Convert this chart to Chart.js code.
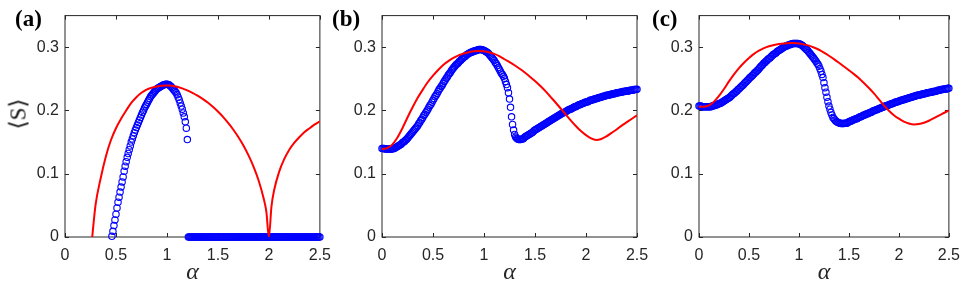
<!DOCTYPE html>
<html>
<head>
<meta charset="utf-8">
<script src="https://cdn.jsdelivr.net/npm/chart.js@4.4.1/dist/chart.umd.min.js"></script>
<style>
  body { margin: 0; background: #fff; }
  #wrap { position: relative; width: 969px; height: 289px; overflow: hidden; }
  canvas { position: absolute; top: 0; }
  .tag { position: absolute; font-family: 'Liberation Serif', 'DejaVu Serif', serif; font-weight: bold; font-size: 23px; line-height: 1; color: #000; }
  #ylab { position: absolute; left: 18px; top: 114px; font-family: 'Liberation Serif', 'DejaVu Serif', serif; font-size: 23px; line-height: 1; color: #111;
          transform: translate(-50%, -50%) rotate(-90deg); white-space: nowrap; }
</style>
</head>
<body>
<div id="wrap">
  <canvas id="chartA" width="340" height="289" style="left:0px"></canvas>
  <canvas id="chartB" width="330" height="289" style="left:330px"></canvas>
  <canvas id="chartC" width="319" height="289" style="left:650px"></canvas>
  <div class="tag" style="left:15px; top:7px">(a)</div>
  <div class="tag" style="left:332px; top:7px">(b)</div>
  <div class="tag" style="left:652px; top:7px">(c)</div>
  <div id="ylab">⟨S⟩</div>
</div>
<script>
// sampling grids of alpha
const alphaFine = [];
for (let i = 0; i <= 250; i++) alphaFine.push(i / 100);
const alphaCoarse = [];
for (let i = 0; i <= 50; i++) alphaCoarse.push(i / 20);

const xTicks = [0, 0.5, 1, 1.5, 2, 2.5];
const yTicks = [0, 0.1, 0.2, 0.3];

// panel (a): simulation (blue circles, on alphaFine)
const blueA = [
  null, null, null, null, null, null, null, null, null, null,
  null, null, null, null, null, null, null, null, null, null,
  null, null, null, null, null, null, null, null, null, null,
  null, null, null, null, null, null, null, null, null, null,
  null, null, null, null, null, null, 0.001, 0.009, 0.018, 0.027,
  0.036, 0.046, 0.055, 0.063, 0.071, 0.079, 0.087, 0.095, 0.104, 0.112,
  0.119, 0.126, 0.132, 0.138, 0.144, 0.150, 0.155, 0.160, 0.165, 0.169,
  0.173, 0.177, 0.181, 0.185, 0.189, 0.193, 0.197, 0.200, 0.204, 0.207,
  0.210, 0.213, 0.216, 0.219, 0.222, 0.224, 0.226, 0.228, 0.230, 0.232,
  0.234, 0.235, 0.236, 0.237, 0.238, 0.239, 0.240, 0.2405, 0.241, 0.2415,
  0.2415, 0.241, 0.2405, 0.239, 0.238, 0.236, 0.234, 0.232, 0.230, 0.228,
  0.225, 0.221, 0.217, 0.212, 0.207, 0.202, 0.196, 0.190, 0.182, 0.172,
  0.154, 0, 0, 0, 0, 0, 0, 0, 0, 0,
  0, 0, 0, 0, 0, 0, 0, 0, 0, 0,
  0, 0, 0, 0, 0, 0, 0, 0, 0, 0,
  0, 0, 0, 0, 0, 0, 0, 0, 0, 0,
  0, 0, 0, 0, 0, 0, 0, 0, 0, 0,
  0, 0, 0, 0, 0, 0, 0, 0, 0, 0,
  0, 0, 0, 0, 0, 0, 0, 0, 0, 0,
  0, 0, 0, 0, 0, 0, 0, 0, 0, 0,
  0, 0, 0, 0, 0, 0, 0, 0, 0, 0,
  0, 0, 0, 0, 0, 0, 0, 0, 0, 0,
  0, 0, 0, 0, 0, 0, 0, 0, 0, 0,
  0, 0, 0, 0, 0, 0, 0, 0, 0, 0,
  0, 0, 0, 0, 0, 0, 0, 0, 0, 0,
  0
];

// panel (a): theory (red line)
const alphaRedA = [0.267, 0.3, 0.35, 0.4, 0.45, 0.5, 0.55, 0.6, 0.65, 0.7,
  0.75, 0.8, 0.85, 0.9, 0.95, 1.0, 1.05, 1.1, 1.15, 1.2,
  1.25, 1.3, 1.35, 1.4, 1.45, 1.5, 1.55, 1.6, 1.65, 1.7,
  1.75, 1.8, 1.85, 1.9, 1.95, 1.975, 2.0, 2.025, 2.05, 2.1,
  2.15, 2.2, 2.25, 2.3, 2.35, 2.4, 2.45, 2.5];
const redA = [0, 0.051, 0.093, 0.127, 0.153, 0.172, 0.187, 0.200, 0.212, 0.221,
  0.228, 0.233, 0.236, 0.238, 0.239, 0.2395, 0.239, 0.2375, 0.235, 0.2318,
  0.228, 0.2235, 0.2183, 0.2125, 0.2058, 0.1983, 0.190, 0.1805, 0.170, 0.158,
  0.1445, 0.129, 0.111, 0.089, 0.060, 0.040, 0, 0.048, 0.073, 0.103,
  0.123, 0.138, 0.149, 0.158, 0.166, 0.172, 0.178, 0.183];

// panel (b)
const blueB = [
  0.140, 0.140, 0.140, 0.139, 0.139, 0.139, 0.139, 0.139, 0.139, 0.139,
  0.139, 0.140, 0.140, 0.141, 0.142, 0.143, 0.144, 0.145, 0.146, 0.147,
  0.149, 0.150, 0.151, 0.153, 0.154, 0.156, 0.158, 0.160, 0.162, 0.164,
  0.166, 0.168, 0.170, 0.172, 0.174, 0.176, 0.179, 0.181, 0.184, 0.186,
  0.189, 0.192, 0.194, 0.197, 0.199, 0.202, 0.205, 0.208, 0.210, 0.213,
  0.216, 0.219, 0.222, 0.224, 0.227, 0.230, 0.233, 0.235, 0.238, 0.240,
  0.243, 0.246, 0.248, 0.251, 0.253, 0.256, 0.258, 0.260, 0.263, 0.265,
  0.267, 0.269, 0.271, 0.273, 0.274, 0.276, 0.278, 0.279, 0.281, 0.282,
  0.284, 0.285, 0.286, 0.288, 0.289, 0.290, 0.291, 0.292, 0.292, 0.293,
  0.294, 0.294, 0.295, 0.295, 0.296, 0.2965, 0.2965, 0.2965, 0.296, 0.2955,
  0.295, 0.294, 0.293, 0.292, 0.291, 0.289, 0.287, 0.285, 0.283, 0.281,
  0.279, 0.276, 0.274, 0.271, 0.268, 0.265, 0.262, 0.259, 0.257, 0.254,
  0.251, 0.246, 0.241, 0.236, 0.228, 0.218, 0.205, 0.190, 0.178, 0.169,
  0.162, 0.158, 0.156, 0.155, 0.154, 0.154, 0.154, 0.155, 0.155, 0.156,
  0.158, 0.159, 0.160, 0.161, 0.162, 0.163, 0.164, 0.165, 0.166, 0.168,
  0.169, 0.170, 0.171, 0.172, 0.173, 0.174, 0.175, 0.176, 0.177, 0.178,
  0.179, 0.180, 0.181, 0.182, 0.183, 0.184, 0.185, 0.186, 0.187, 0.188,
  0.189, 0.190, 0.191, 0.192, 0.193, 0.194, 0.195, 0.196, 0.197, 0.197,
  0.198, 0.199, 0.200, 0.201, 0.202, 0.202, 0.203, 0.204, 0.205, 0.206,
  0.206, 0.207, 0.208, 0.209, 0.209, 0.210, 0.211, 0.211, 0.212, 0.213,
  0.213, 0.214, 0.214, 0.215, 0.216, 0.216, 0.217, 0.217, 0.218, 0.218,
  0.219, 0.219, 0.220, 0.220, 0.221, 0.221, 0.222, 0.222, 0.223, 0.223,
  0.224, 0.224, 0.224, 0.225, 0.225, 0.226, 0.226, 0.226, 0.227, 0.227,
  0.228, 0.228, 0.228, 0.229, 0.229, 0.229, 0.230, 0.230, 0.230, 0.231,
  0.231, 0.231, 0.231, 0.232, 0.232, 0.232, 0.232, 0.233, 0.233, 0.233,
  0.2335
];
const redB = [0.139, 0.1405, 0.146, 0.157, 0.172, 0.189, 0.205, 0.220, 0.233, 0.245,
  0.255, 0.264, 0.272, 0.278, 0.283, 0.287, 0.290, 0.292, 0.2935, 0.294,
  0.2935, 0.292, 0.2895, 0.286, 0.281, 0.2765, 0.2715, 0.266, 0.260, 0.2535,
  0.2465, 0.239, 0.231, 0.222, 0.213, 0.2035, 0.194, 0.1845, 0.1755, 0.1675,
  0.161, 0.156, 0.1535, 0.155, 0.159, 0.1645, 0.170, 0.176, 0.1815, 0.187,
  0.1925];

// panel (c)
const blueC = [
  0.207, 0.207, 0.207, 0.206, 0.206, 0.206, 0.206, 0.206, 0.206, 0.206,
  0.206, 0.206, 0.206, 0.207, 0.207, 0.208, 0.208, 0.209, 0.209, 0.210,
  0.211, 0.211, 0.212, 0.213, 0.214, 0.215, 0.216, 0.217, 0.218, 0.219,
  0.220, 0.221, 0.223, 0.224, 0.226, 0.227, 0.228, 0.230, 0.231, 0.233,
  0.234, 0.236, 0.237, 0.239, 0.240, 0.242, 0.244, 0.245, 0.247, 0.248,
  0.250, 0.252, 0.253, 0.255, 0.256, 0.258, 0.260, 0.261, 0.263, 0.264,
  0.266, 0.268, 0.270, 0.271, 0.273, 0.275, 0.276, 0.278, 0.279, 0.281,
  0.282, 0.283, 0.285, 0.286, 0.288, 0.289, 0.290, 0.291, 0.293, 0.294,
  0.295, 0.296, 0.297, 0.298, 0.299, 0.300, 0.301, 0.302, 0.302, 0.303,
  0.304, 0.304, 0.305, 0.305, 0.306, 0.306, 0.306, 0.306, 0.306, 0.306,
  0.305, 0.305, 0.304, 0.303, 0.302, 0.300, 0.299, 0.297, 0.296, 0.294,
  0.292, 0.290, 0.288, 0.286, 0.284, 0.282, 0.280, 0.278, 0.275, 0.273,
  0.270, 0.266, 0.262, 0.257, 0.252, 0.244, 0.236, 0.229, 0.221, 0.214,
  0.207, 0.202, 0.197, 0.193, 0.189, 0.187, 0.185, 0.183, 0.182, 0.181,
  0.1805, 0.180, 0.1795, 0.1795, 0.1795, 0.1795, 0.180, 0.180, 0.180, 0.181,
  0.182, 0.183, 0.183, 0.184, 0.185, 0.1855, 0.186, 0.187, 0.187, 0.188,
  0.189, 0.190, 0.190, 0.191, 0.192, 0.193, 0.193, 0.194, 0.195, 0.195,
  0.196, 0.197, 0.197, 0.198, 0.199, 0.1995, 0.200, 0.201, 0.201, 0.202,
  0.203, 0.203, 0.204, 0.205, 0.205, 0.206, 0.207, 0.207, 0.208, 0.208,
  0.209, 0.210, 0.210, 0.211, 0.211, 0.212, 0.213, 0.213, 0.214, 0.214,
  0.215, 0.215, 0.216, 0.216, 0.217, 0.217, 0.218, 0.218, 0.219, 0.219,
  0.220, 0.220, 0.221, 0.221, 0.222, 0.222, 0.223, 0.223, 0.224, 0.224,
  0.224, 0.225, 0.225, 0.226, 0.226, 0.226, 0.227, 0.227, 0.228, 0.228,
  0.228, 0.229, 0.229, 0.229, 0.230, 0.230, 0.230, 0.231, 0.231, 0.232,
  0.232, 0.232, 0.233, 0.233, 0.233, 0.234, 0.234, 0.234, 0.234, 0.235,
  0.235
];
const redC = [0.206, 0.206, 0.208, 0.214, 0.223, 0.234, 0.246, 0.257, 0.267, 0.2755,
  0.283, 0.2895, 0.2945, 0.2985, 0.3015, 0.3035, 0.305, 0.306, 0.3065, 0.3065,
  0.306, 0.3045, 0.3025, 0.2995, 0.296, 0.2915, 0.2865, 0.2812, 0.2755, 0.2695,
  0.2635, 0.2575, 0.251, 0.2435, 0.2355, 0.227, 0.2175, 0.208, 0.1995, 0.1925,
  0.187, 0.1825, 0.1795, 0.178, 0.1785, 0.1805, 0.1838, 0.1878, 0.192, 0.196,
  0.200];

const AXIS = '#262626';
const tickFont = { family: "'Liberation Sans', Arial, sans-serif", size: 16 };

// MATLAB-style box with inward ticks on all four sides
const boxTicks = {
  id: 'boxTicks',
  beforeDatasetsDraw(chart) {
    const { ctx, chartArea: a, scales: { x, y } } = chart;
    ctx.save();
    ctx.strokeStyle = AXIS;
    ctx.lineWidth = 1;
    ctx.beginPath();
    xTicks.forEach(v => {
      const px = Math.round(x.getPixelForValue(v)) + 0.5;
      ctx.moveTo(px, a.bottom); ctx.lineTo(px, a.bottom - 4);
      ctx.moveTo(px, a.top); ctx.lineTo(px, a.top + 4);
    });
    yTicks.forEach(v => {
      const py = Math.round(y.getPixelForValue(v)) + 0.5;
      ctx.moveTo(a.left, py); ctx.lineTo(a.left + 4, py);
      ctx.moveTo(a.right, py); ctx.lineTo(a.right - 4, py);
    });
    ctx.stroke();
    ctx.strokeRect(a.left, a.top, a.right - a.left, a.bottom - a.top);
    ctx.restore();
  }
};

function pts(xs, ys) {
  return xs.map((v, i) => ({ x: v, y: ys[i] })).filter(p => p.y !== null);
}

function makePanel(id, blue, redX, red, yWidth, padRight) {
  new Chart(document.getElementById(id), {
    type: 'scatter',
    data: {
      datasets: [{
        data: pts(redX, red),
        showLine: true,
        borderColor: '#ff0000',
        borderWidth: 2,
        pointRadius: 0,
        cubicInterpolationMode: 'monotone'
      }, {
        data: pts(alphaFine, blue),
        showLine: false,
        pointRadius: 3.2,
        pointBorderWidth: 1.1,
        pointBorderColor: '#0000ff',
        pointBackgroundColor: 'rgba(0,0,0,0)',
        clip: false
      }]
    },
    options: {
      responsive: false,
      animation: false,
      devicePixelRatio: 1,
      layout: { padding: { top: 5.5, right: padRight, left: 0, bottom: 0 } },
      plugins: { legend: { display: false }, tooltip: { enabled: false } },
      scales: {
        x: {
          type: 'linear', min: 0, max: 2.5,
          afterBuildTicks: s => { s.ticks = xTicks.map(v => ({ value: v })); },
          afterFit: s => { s.height = 52; },
          ticks: { font: tickFont, color: AXIS, padding: 9, maxRotation: 0, autoSkip: false,
                   callback: v => String(v) },
          grid: { display: false, drawTicks: false },
          border: { display: false },
          title: { display: true, text: 'α', color: AXIS,
                   font: { family: "'Liberation Serif', 'DejaVu Serif', serif", style: 'italic', size: 24 },
                   padding: { top: 0, bottom: 2 } }
        },
        y: {
          min: 0, max: 0.35,
          afterBuildTicks: s => { s.ticks = yTicks.map(v => ({ value: v })); },
          afterFit: s => { s.width = yWidth; },
          ticks: { font: tickFont, color: AXIS, padding: 6, callback: v => String(v) },
          grid: { display: false, drawTicks: false },
          border: { display: false }
        }
      }
    },
    plugins: [boxTicks]
  });
}

makePanel('chartA', blueA, alphaRedA, redA, 65, 19.5);
makePanel('chartB', blueB, alphaCoarse, redB, 52, 23);
makePanel('chartC', blueC, alphaCoarse, redC, 49, 15);
</script>
</body>
</html>
